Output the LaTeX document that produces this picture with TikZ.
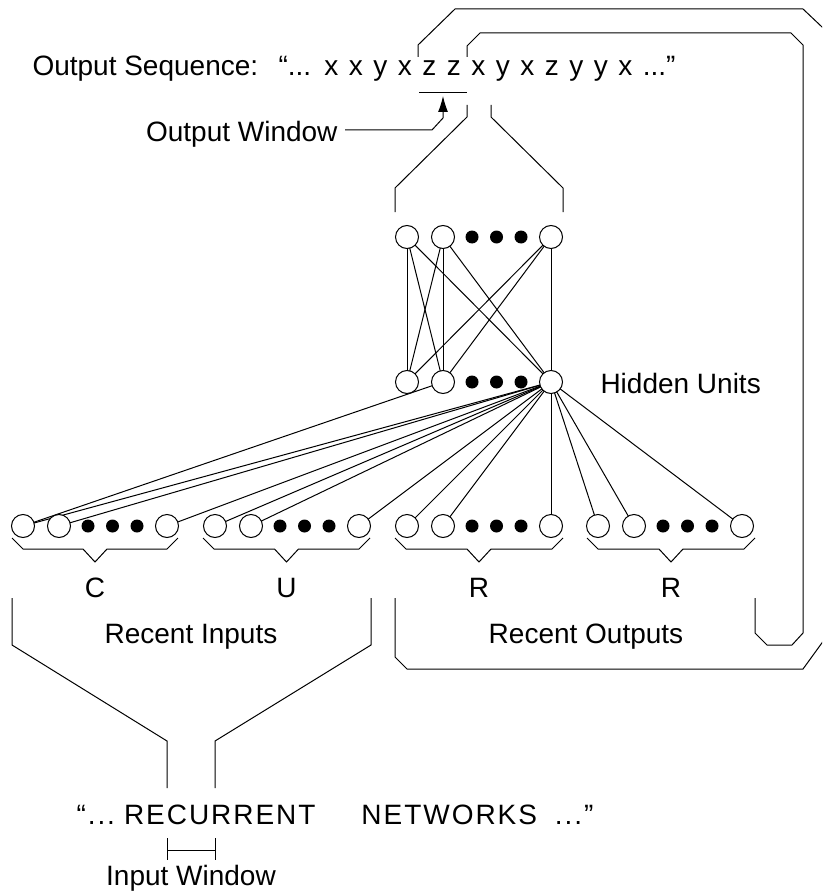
\documentclass[tikz,border=0pt]{standalone}
\usepackage{fontspec}
\setmainfont{Liberation Sans}
\usetikzlibrary{arrows.meta,backgrounds}
\begin{document}
\begin{tikzpicture}[x=1pt,y=-1pt,line width=1pt,
  unit/.style={circle,draw,fill=white,minimum size=23pt,inner sep=0pt,line width=1pt},
  blob/.style={circle,fill=black,minimum size=13pt,inner sep=0pt},
  lbl/.style={font=\fontsize{28}{32}\selectfont,inner sep=0pt},
  wire/.style={line width=1pt},
  frame/.style={line width=1pt}]
\useasboundingbox (0,0) rectangle (822,896);
\clip (0,0) rectangle (822,896);
% hidden units
\node[unit] (ht1) at (407,237) {};
\node[unit] (ht2) at (443,237) {};
\node[blob] (htd1) at (472,237) {};
\node[blob] (htd2) at (496.5,237) {};
\node[blob] (htd3) at (521,237) {};
\node[unit] (htn) at (551,237) {};
\node[unit] (hb1) at (407,382) {};
\node[unit] (hb2) at (443,382) {};
\node[blob] (hbd1) at (472,382) {};
\node[blob] (hbd2) at (496.5,382) {};
\node[blob] (hbd3) at (521,382) {};
\node[unit] (hbn) at (551,382) {};
% input rows
\foreach \p/\xa in {c/23,u/215,r/407,s/598}{
  \node[unit] (\p1) at (\xa,526) {};
  \node[unit] (\p2) at (\xa+36,526) {};
  \node[blob] (\p d1) at (\xa+65,526) {};
  \node[blob] (\p d2) at (\xa+89.5,526) {};
  \node[blob] (\p d3) at (\xa+114,526) {};
  \node[unit] (\p n) at (\xa+144,526) {};
}
\begin{scope}[on background layer]
  \foreach \a in {ht1,ht2,htn}
    \foreach \b in {hb1,hb2,hbn}
      \draw[wire] (\a.center) -- (\b.center);
  \draw[wire] (hb2.center) -- (c1.center);
  \foreach \b in {c1,c2,cn,u1,u2,un,r1,r2,rn,s1,s2,sn}
    \draw[wire] (hbn.center) -- (\b.center);
\end{scope}
% braces and labels
\foreach \l/\r/\t/\k in {12/178/C/1,203/370/U/2,395/563/R/3,587/755/R/4}{
  \pgfmathsetmacro{\m}{(\l+\r)/2}
  \draw[frame] (\l,538) -- (\l+11,549) -- (\m-12,549) -- (\m,562) -- (\m+12,549) -- (\r-11,549) -- (\r,538);
  \node[lbl] (grp\k) at (\m,588) {\t};
}
% text
\node[lbl,anchor=base west] (outlab) at (32,76) {Output Sequence:};
\node[lbl,anchor=base west] (outseq) at (278,76) {\spaceskip=10.5pt plus 0pt minus 0pt “... x x y x z z x y x z y y x ...”};
\node[lbl,anchor=east] (outwin) at (338,134) {Output Window};
\node[lbl,anchor=west] (hidden) at (600,383) {Hidden Units};
\node[lbl] (recin) at (191,637) {Recent Inputs};
\node[lbl] (recout) at (586,637) {Recent Outputs};
\node[lbl,anchor=base west] (inseq) at (76,824) {\addfontfeature{LetterSpace=7}“...\hspace{9pt}RECURRENT\hspace{46pt}NETWORKS\hspace{18pt}...”};
\node[lbl] (inwin) at (191,878) {Input Window};
% output window marker
\draw[frame] (419,93) -- (467,93);
\coordinate (owtip) at (443,96);
\draw[frame,-{Latex[length=16pt,width=10pt]}] (outwin.east) ++(7,-4) -- (432,130) -- (443,118) -- (owtip);
% bracket from output window to hidden layer
\draw[frame] (467,105) -- (467,117) -- (395,188) -- (395,212);
\draw[frame] (491,105) -- (491,117) -- (563,188) -- (563,212);
% feedback loops
\draw[frame] (755,598) -- (755,633) -- (767,645) -- (792,645) -- (803,633) -- (803,45) -- (791,33) -- (480,33) -- (467,46) -- (467,57);
\draw[frame] (395,598) -- (395,657) -- (407,669) -- (803,669) -- (840,618) -- (840,44) -- (803,9) -- (455,9) -- (418,45) -- (418,57);
% recent inputs bracket to input window
\draw[frame] (12,598) -- (12,645) -- (167,741) -- (167,788);
\draw[frame] (371,598) -- (371,645) -- (215,741) -- (215,788);
\draw[frame] (167,838) -- (167,860);
\draw[frame] (215,838) -- (215,860);
\draw[frame] (167,850) -- (215,850);
\end{tikzpicture}
\end{document}
